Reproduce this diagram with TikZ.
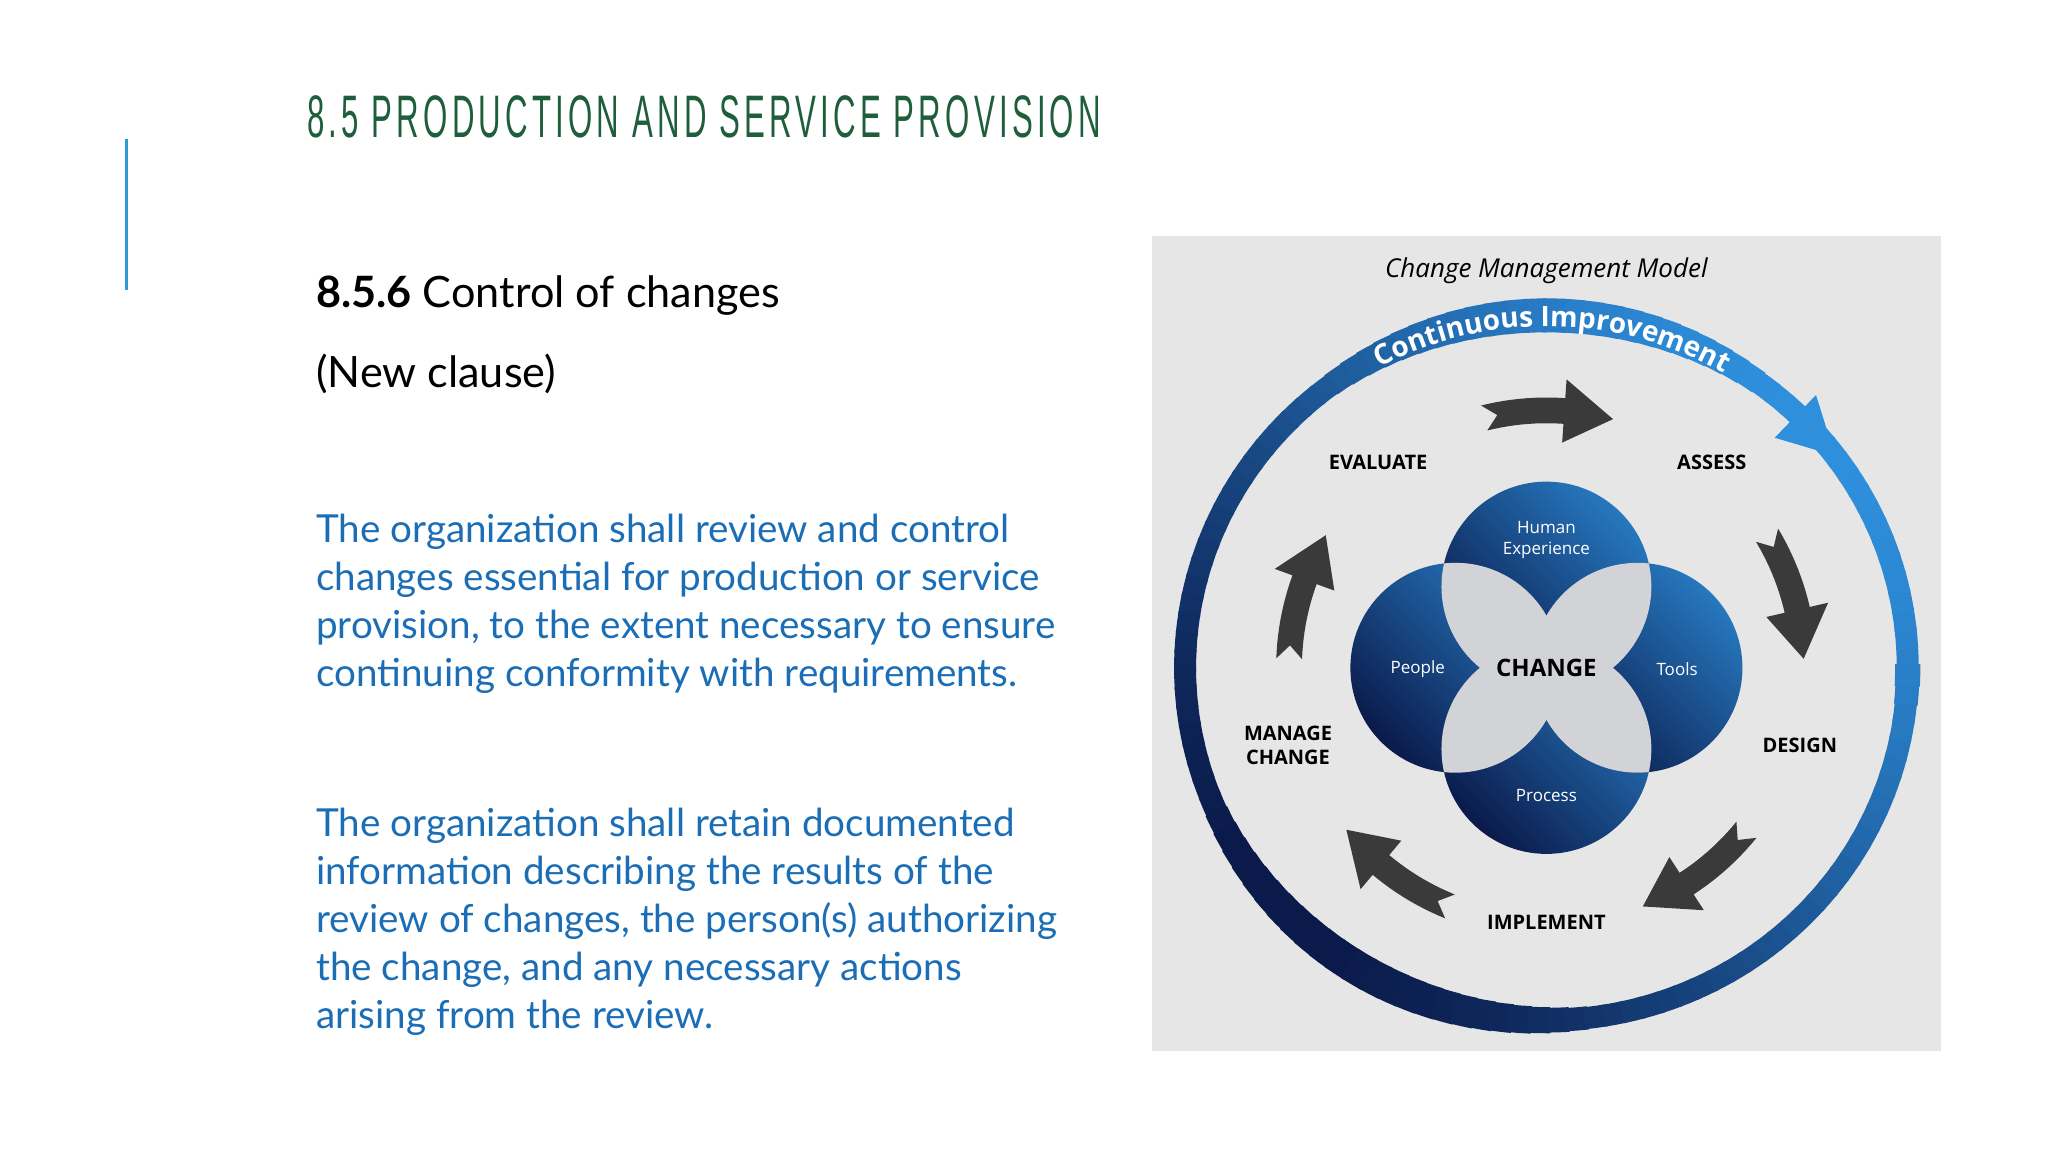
\documentclass[tikz,border=0pt]{standalone}
\usepackage{fontspec}
\setmainfont{Lato}
\newfontfamily\titlefont[FakeStretch=0.52,LetterSpace=7]{Liberation Sans}
\newfontfamily\osans{Open Sans}
\usetikzlibrary{decorations.text}
\definecolor{tgreen}{HTML}{1E5E3B}
\definecolor{bblue}{HTML}{1B6EB5}
\definecolor{vline}{HTML}{2E9BD6}
\definecolor{panel}{HTML}{E6E6E6}
\definecolor{lightb}{HTML}{2E8FDC}
\definecolor{darkb}{HTML}{0A1A4A}
\definecolor{arr}{HTML}{3A3A3A}
\definecolor{lens}{HTML}{D2D3D6}
\tikzset{
  lbl/.style={font=\osans\bfseries\fontsize{10}{12}\selectfont, text=black, align=center},
  wl/.style={font=\osans\fontsize{8.5}{10.5}\selectfont, text=white, align=center},
  body/.style={font=\fontsize{19.3}{24}\selectfont, text=bblue, anchor=base west, align=left, inner sep=0},
  blob/.style={left color=darkb, right color=lightb!80!darkb, shading angle=135},
}
\newcommand{\carrow}[1]{%
  \fill[arr] plot[domain=#1+14:#1-4,samples=12] (\x:273) -- (#1-4:292) -- (#1-15:260) -- (#1-4:228)
     -- plot[domain=#1-4:#1+14,samples=12] (\x:247) -- (#1+11:260) -- cycle;}
\begin{document}
\begin{tikzpicture}[x=0.5pt,y=0.5pt]
\useasboundingbox (0,0) rectangle (2048,1152);
\fill[white] (0,0) rectangle (2048,1152);
\begin{scope}[yshift=6pt, scale=0.99]
\node[anchor=base west, inner sep=0, text=tgreen, font=\titlefont\fontsize{30}{30}\selectfont] (title) at (310,1013) {8.5 PRODUCTION AND SERVICE PROVISION};
\draw[vline, line width=1.6pt] (128,1011) coordinate (v1) -- (128,859) coordinate (v2);
\node[body, text=black, font=\fontsize{21.6}{24}\selectfont] (h) at (319,841) {\textbf{8.5.6} Control of changes};
\node[body, text=black, font=\fontsize{21.6}{24}\selectfont] (nc) at (319,760) {(New clause)};
\node[body] (p1) at (319,458) {The organization shall review and control\\changes essential for production or service\\provision, to the extent necessary to ensure\\continuing conformity with requirements.};
\node[body] (p2) at (319,113) {The organization shall retain documented\\information describing the results of the\\review of changes, the person(s) authorizing\\the change, and any necessary actions\\arising from the review.};
% panel
\fill[panel] (1164,90) rectangle (1961,913);
\node[font=\osans\itshape\fontsize{13}{15}\selectfont] (cmm) at (1562,878) {Change Management Model};
\begin{scope}[shift={(1562,477)}]
  % ring
  \foreach \a in {0,3,...,357}{
    \pgfmathsetmacro\p{round(50*(1+cos(\a-40)))}
    \pgfmathsetmacro\w{11+6*max(0,cos(2.4*(\a-88)))}
    \draw[line width=\w pt, color=lightb!\p!darkb] plot[domain=\a:\a+3.6,samples=3] ({365*cos(\x)},{356*sin(\x)});
  }
  \fill[lightb] ({392*cos(46)},{383*sin(46)}) -- ({332*cos(46)},{323*sin(46)}) -- ({365*cos(37)},{356*sin(37)}) -- cycle;
  \path[decorate, decoration={text along path, text align=center, text={|\osans\bfseries\fontsize{14}{14}\selectfont\color{white}|Continuous Improvement}}]
     plot[domain=127:51,samples=60] ({354*cos(\x)},{345*sin(\x)});
  % dark arrows
  \carrow{90}\carrow{17}\carrow{-53}\carrow{-126}\carrow{164}
  % circles
  \coordinate (T) at (0,82); \coordinate (B) at (0,-82);
  \coordinate (L) at (-92,0); \coordinate (R) at (92,0);
  \foreach \c in {T,B,L,R}{\shade[blob] (\c) circle[radius=106];}
  \foreach \c/\d in {T/L,T/R,B/L,B/R,T/B,L/R}{
    \begin{scope}\clip (\c) circle[radius=106];
      \fill[lens] (\d) circle[radius=106];
    \end{scope}}
  \node[font=\osans\bfseries\fontsize{12}{14}\selectfont] (chg) at (0,0) {CHANGE};
  \node[wl] (pe) at (-130,-1) {People};
  \node[wl] (to) at (132,-1) {Tools};
  \node[wl] (hu) at (0,129) {Human\\Experience};
  \node[wl] (pr) at (0,-129) {Process};
  \node[lbl] (ev) at (-170,207) {EVALUATE};
  \node[lbl] (as) at (167,207) {ASSESS};
  \node[lbl] (de) at (256,-78) {DESIGN};
  \node[lbl] (im) at (0,-257) {IMPLEMENT};
  \node[lbl] (mc) at (-261,-78) {MANAGE\\CHANGE};
\end{scope}
\end{scope}
\end{tikzpicture}
\end{document}
